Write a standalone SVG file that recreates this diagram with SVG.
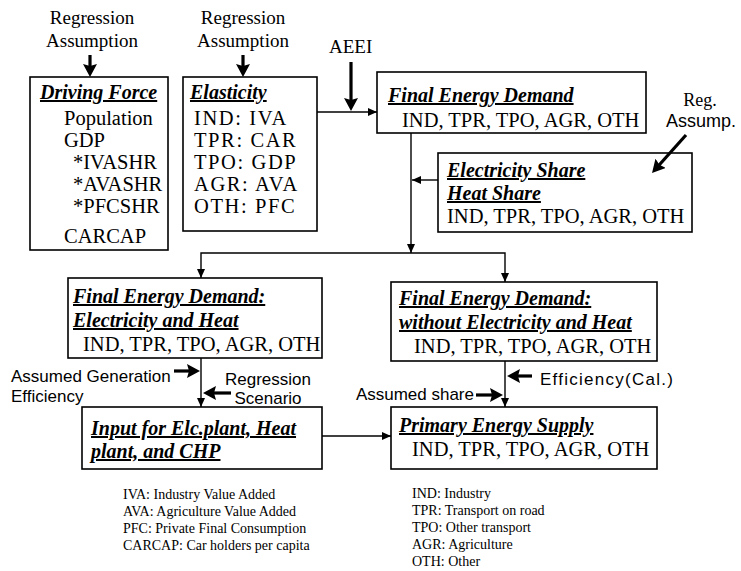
<svg xmlns="http://www.w3.org/2000/svg" width="741" height="571" viewBox="0 0 741 571">
<defs>
<marker id="ah" markerUnits="userSpaceOnUse" markerWidth="10" markerHeight="8" refX="9" refY="4" orient="auto"><path d="M0,0 L9,4 L0,8 z" fill="#000"/></marker>
<marker id="ahb" markerUnits="userSpaceOnUse" markerWidth="14" markerHeight="14" refX="9" refY="7" orient="auto"><path d="M0,0 L13,7 L0,14 L2,7 z" fill="#000"/></marker>
</defs>
<style>
.box{fill:#fff;stroke:#000;stroke-width:1.6}
.t{font-family:"Liberation Serif","Times New Roman",serif;font-size:20.5px;fill:#000}
.e{letter-spacing:1.6px}
.h{font-family:"Liberation Serif","Times New Roman",serif;font-size:20px;font-weight:bold;font-style:italic;text-decoration:underline;fill:#000}
.r{font-family:"Liberation Serif","Times New Roman",serif;font-size:19px;fill:#000}
.s{font-family:"Liberation Sans",Arial,sans-serif;font-size:17px;fill:#000}
.lg{font-family:"Liberation Serif","Times New Roman",serif;font-size:14px;fill:#000}
.c{fill:none;stroke:#000;stroke-width:1.4}
.k{fill:none;stroke:#000;stroke-width:3.2}
.m{text-anchor:middle}
</style>

<g id="label-regression-1">
<text class="r m" x="92" y="24">Regression</text>
<text class="r m" x="92" y="47">Assumption</text>
</g>
<g id="label-regression-2">
<text class="r m" x="243" y="24">Regression</text>
<text class="r m" x="243" y="47">Assumption</text>
</g>
<g id="label-aeei">
<text class="r" x="329" y="53">AEEI</text>
</g>
<g id="label-reg-assump">
<text class="r m" x="700" y="106" style="font-size:18px">Reg.</text>
<text class="s m" x="701" y="127" style="font-size:18px">Assump.</text>
</g>

<g id="driving-force">
<rect class="box" x="30" y="77" width="138" height="173"/>
<text class="h" x="40" y="99">Driving Force</text>
<text class="t" x="64" y="125">Population</text>
<text class="t" x="64" y="147">GDP</text>
<text class="t" x="73" y="169">*IVASHR</text>
<text class="t" x="73" y="191">*AVASHR</text>
<text class="t" x="73" y="213">*PFCSHR</text>
<text class="t" x="64" y="243">CARCAP</text>
</g>

<g id="elasticity">
<rect class="box" x="183" y="77" width="134" height="154"/>
<text class="h" x="190" y="99">Elasticity</text>
<text class="t e" x="194" y="125">IND: IVA</text>
<text class="t e" x="194" y="147">TPR: CAR</text>
<text class="t e" x="194" y="169">TPO: GDP</text>
<text class="t e" x="194" y="191">AGR: AVA</text>
<text class="t e" x="194" y="213">OTH: PFC</text>
</g>

<g id="final-energy-demand">
<rect class="box" x="377" y="72" width="269" height="61"/>
<text class="h" x="388" y="102">Final Energy Demand</text>
<text class="t" x="402" y="127">IND, TPR, TPO, AGR, OTH</text>
</g>

<g id="electricity-heat-share">
<rect class="box" x="438" y="153" width="254" height="79"/>
<text class="h" x="447" y="177">Electricity Share</text>
<text class="h" x="447" y="200">Heat Share</text>
<text class="t" x="447" y="223">IND, TPR, TPO, AGR, OTH</text>
</g>

<g id="fed-electricity-heat">
<rect class="box" x="68" y="278" width="254" height="80"/>
<text class="h" x="73" y="303">Final Energy Demand:</text>
<text class="h" x="73" y="327">Electricity and Heat</text>
<text class="t" x="83" y="351">IND, TPR, TPO, AGR, OTH</text>
</g>

<g id="fed-without">
<rect class="box" x="391" y="282" width="266" height="79"/>
<text class="h" x="399" y="305">Final Energy Demand:</text>
<text class="h" x="399" y="329">without Electricity and Heat</text>
<text class="t" x="414" y="353">IND, TPR, TPO, AGR, OTH</text>
</g>

<g id="input-plant">
<rect class="box" x="82" y="407" width="240" height="62"/>
<text class="h" x="91" y="435">Input for Elc.plant, Heat</text>
<text class="h" x="91" y="458">plant, and CHP</text>
</g>

<g id="primary-energy-supply">
<rect class="box" x="391" y="407" width="266" height="62"/>
<text class="h" x="399" y="432">Primary Energy Supply</text>
<text class="t" x="412" y="456">IND, TPR, TPO, AGR, OTH</text>
</g>

<g id="side-labels">
<text class="s" x="11" y="382">Assumed Generation</text>
<text class="s" x="11" y="402">Efficiency</text>
<text class="s m" x="268" y="385">Regression</text>
<text class="s m" x="268" y="404">Scenario</text>
<text class="s" x="540" y="385" textLength="133" lengthAdjust="spacing">Efficiency(Cal.)</text>
<text class="s" x="474" y="400" text-anchor="end">Assumed share</text>
</g>

<g id="legend-left">
<text class="lg" x="123" y="499">IVA: Industry Value Added</text>
<text class="lg" x="123" y="516">AVA: Agriculture Value Added</text>
<text class="lg" x="123" y="533">PFC: Private Final Consumption</text>
<text class="lg" x="123" y="550">CARCAP: Car holders per capita</text>
</g>
<g id="legend-right">
<text class="lg" x="412" y="498">IND: Industry</text>
<text class="lg" x="412" y="515">TPR: Transport on road</text>
<text class="lg" x="412" y="532">TPO: Other transport</text>
<text class="lg" x="412" y="549">AGR: Agriculture</text>
<text class="lg" x="412" y="566">OTH: Other</text>
</g>

<g id="connectors">
<path class="c" d="M317,112 H377" marker-end="url(#ah)"/>
<path class="c" d="M411,133 V253" marker-end="url(#ah)"/>
<path class="c" d="M438,180 H412" marker-end="url(#ah)"/>
<path class="c" d="M411,253 H201 V278" marker-end="url(#ah)"/>
<path class="c" d="M411,253 H505 V282" marker-end="url(#ah)"/>
<path class="c" d="M201,358 V407" marker-end="url(#ah)"/>
<path class="c" d="M505,361 V407" marker-end="url(#ah)"/>
<path class="c" d="M322,436 H391" marker-end="url(#ah)"/>
<path class="k" d="M90,55 V73" marker-end="url(#ahb)"/>
<path class="k" d="M243,55 V73" marker-end="url(#ahb)"/>
<path class="k" d="M351,62 V107" marker-end="url(#ahb)"/>
<path class="k" d="M686,135 L654.7,170" marker-end="url(#ahb)"/>
<path class="k" d="M174,371 H196" marker-end="url(#ahb)"/>
<path class="k" d="M231,393 H207" marker-end="url(#ahb)"/>
<path class="k" d="M476,395 H499" marker-end="url(#ahb)"/>
<path class="k" d="M532,376 H511" marker-end="url(#ahb)"/>
</g>
</svg>
